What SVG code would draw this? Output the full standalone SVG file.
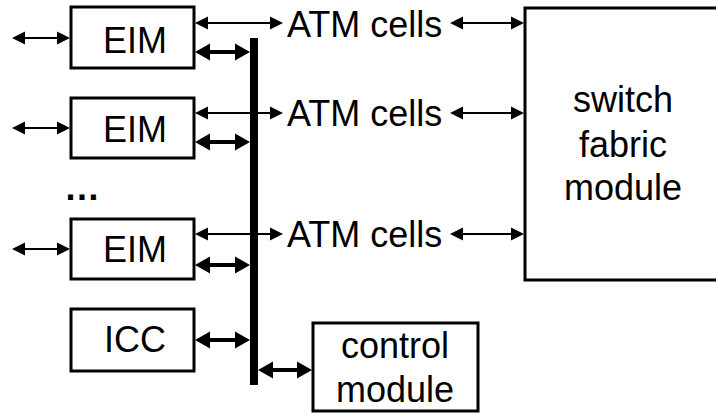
<svg xmlns="http://www.w3.org/2000/svg" width="716" height="413" viewBox="0 0 716 413">
<defs>
<style>
.box{fill:#fff;stroke:#000;stroke-width:3}
.t{font-family:"Liberation Sans",Arial,sans-serif;font-size:36px;fill:#000}
.m{text-anchor:middle}
.thin{stroke:#000;stroke-width:2;fill:none;marker-start:url(#hs);marker-end:url(#hs)}
.thick{stroke:#000;stroke-width:4;fill:none;marker-start:url(#hb);marker-end:url(#hb)}
</style>
<marker id="hs" markerUnits="userSpaceOnUse" markerWidth="14" markerHeight="14" refX="0" refY="7" orient="auto-start-reverse" overflow="visible">
<path d="M0,0.5 L13,7 L0,13.5 Z" fill="#000"/>
</marker>
<marker id="hb" markerUnits="userSpaceOnUse" markerWidth="16" markerHeight="18" refX="0" refY="9" orient="auto-start-reverse" overflow="visible">
<path d="M0,0.5 L15,9 L0,17.5 Z" fill="#000"/>
</marker>
</defs>
<rect width="716" height="413" fill="#fff"/>
<g id="connectors">
<line class="thin" x1="25" y1="38" x2="57" y2="38"/>
<line class="thin" x1="25" y1="128" x2="57" y2="128"/>
<line class="thin" x1="25" y1="249" x2="57" y2="249"/>
<line class="thin" x1="208" y1="23" x2="270" y2="23"/>
<line class="thin" x1="208" y1="113" x2="270" y2="113"/>
<line class="thin" x1="208" y1="234" x2="270" y2="234"/>
<line class="thin" x1="463" y1="23" x2="511" y2="23"/>
<line class="thin" x1="463" y1="113" x2="511" y2="113"/>
<line class="thin" x1="463" y1="234" x2="511" y2="234"/>
<line class="thick" x1="210" y1="52" x2="235" y2="52"/>
<line class="thick" x1="210" y1="142" x2="235" y2="142"/>
<line class="thick" x1="210" y1="265" x2="235" y2="265"/>
<line class="thick" x1="210" y1="340" x2="235" y2="340"/>
<line class="thick" x1="273" y1="370" x2="297" y2="370"/>
<rect id="bus" x="250" y="38" width="8" height="347" fill="#000"/>
</g>
<g id="eim1"><rect class="box" x="71" y="7" width="123" height="61"/><text class="t m" x="135" y="53">EIM</text></g>
<g id="eim2"><rect class="box" x="71" y="98" width="123" height="60"/><text class="t m" x="135" y="142">EIM</text></g>
<g id="ellipsis"><text class="t" x="64" y="200" font-size="44" font-weight="bold">…</text></g>
<g id="eim3"><rect class="box" x="71" y="219" width="123" height="60"/><text class="t m" x="135" y="262">EIM</text></g>
<g id="icc"><rect class="box" x="71" y="309" width="123" height="62"/><text class="t m" x="135" y="352">ICC</text></g>
<g id="atm1"><text class="t" x="287" y="37" font-size="36.5">ATM cells</text></g>
<g id="atm2"><text class="t" x="287" y="126" font-size="36.5">ATM cells</text></g>
<g id="atm3"><text class="t" x="287" y="247" font-size="36.5">ATM cells</text></g>
<g id="switch"><rect class="box" x="525" y="8" width="200" height="272"/><text class="t m" x="623" y="112">switch</text><text class="t m" x="623" y="157">fabric</text><text class="t m" x="623" y="200">module</text></g>
<g id="control"><rect class="box" x="313" y="323" width="165" height="88"/><text class="t m" x="395" y="358">control</text><text class="t m" x="395" y="402">module</text></g>
</svg>
